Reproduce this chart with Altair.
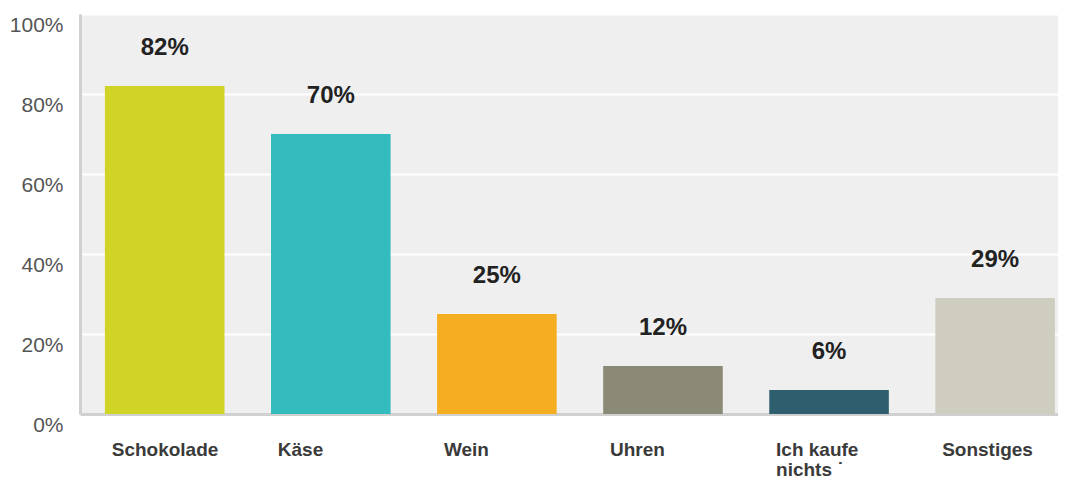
import altair as alt
import pandas as pd

categories = ["Schokolade", "Käse", "Wein", "Uhren", "Ich kaufe|nichts ˙", "Sonstiges"]
values = [82, 70, 25, 12, 6, 29]
colors = ["#cfd427", "#33bbbe", "#f5ae1f", "#8a8a77", "#2f5f6e", "#cfcdbf"]
y_ticks = [0, 10, 20, 30, 40, 50, 60, 70, 80, 90, 100]

df = pd.DataFrame({"cat": categories, "val": values, "lbl": [f"{v}%" for v in values]})

FONT = "Liberation Sans"

x_enc = alt.X(
    "cat:N",
    sort=categories,
    scale=alt.Scale(paddingInner=0.28, paddingOuter=0.0843, align=0.89),
    axis=alt.Axis(
        title=None,
        labelAngle=0,
        labelAlign="left",
        labelOffset=-53,
        labelBaseline="top",
        labelPadding=26,
        labelFont=FONT,
        labelFontSize=19,
        labelFontWeight="bold",
        labelColor="#3a3a3a",
        labelLineHeight=20,
        labelExpr="split(datum.label, '|')",
        ticks=False,
        domainColor="#d0d0d0",
        domainWidth=3,
        grid=False,
    ),
)

y_enc = alt.Y(
    "val:Q",
    scale=alt.Scale(domain=[0, 100], nice=False),
    axis=alt.Axis(
        title=None,
        values=y_ticks,
        labelExpr="datum.value % 20 == 0 ? datum.value + '%' : ''",
        labelFont=FONT,
        labelFontSize=21,
        labelColor="#555555",
        labelOffset=11,
        labelPadding=17,
        ticks=False,
        domainColor="#d0d0d0",
        domainWidth=3,
        grid=True,
        gridColor="#ffffff",
        gridWidth=2,
        gridOpacity=1,
    ),
)

bars = alt.Chart(df).mark_bar().encode(
    x=x_enc,
    y=y_enc,
    color=alt.Color("cat:N", sort=categories, scale=alt.Scale(domain=categories, range=colors), legend=None),
)

texts = alt.Chart(df).mark_text(
    font=FONT, fontSize=24, fontWeight="bold", color="#222222", baseline="alphabetic", dy=-31
).encode(
    x=alt.X("cat:N", sort=categories),
    y=alt.Y("val:Q"),
    text="lbl:N",
)

chart = (
    alt.layer(bars, texts)
    .properties(
        width=978,
        height=400,
        autosize=alt.AutoSizeParams(type="none"),
        padding={"left": 72, "top": 6, "right": 0, "bottom": 65},
        background="#ffffff",
    )
    .configure_view(fill="#efefef", strokeWidth=0)
)

chart.save("out.html", embed_options={"renderer": "svg", "actions": False})
